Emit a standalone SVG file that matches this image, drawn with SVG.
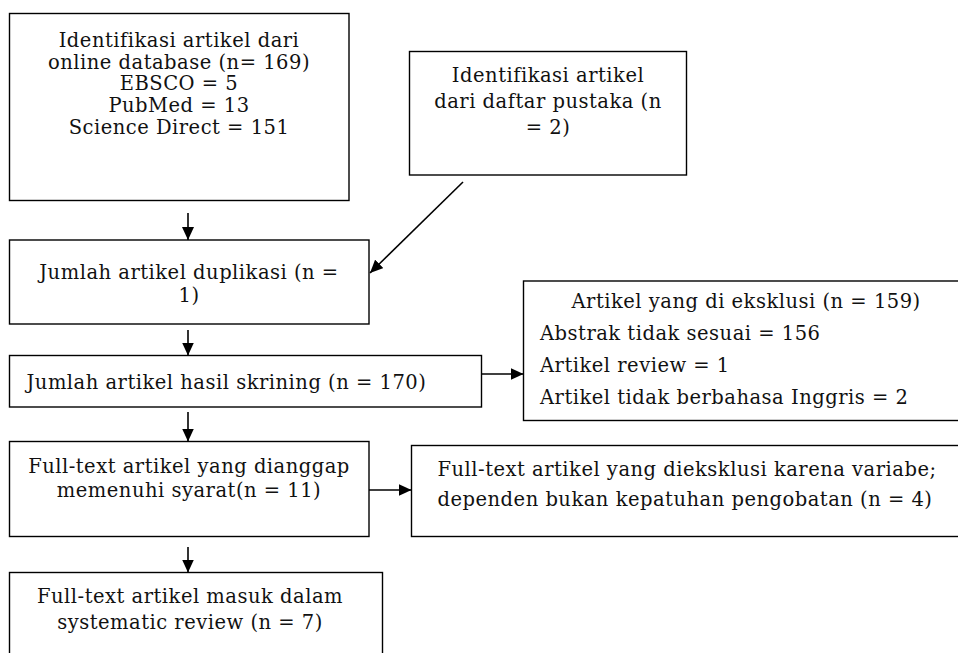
<svg xmlns="http://www.w3.org/2000/svg" width="958" height="653" viewBox="0 0 958 653">
<style>
  .box { fill: #ffffff; stroke: #000000; stroke-width: 1.4; }
  .t { font-family: "DejaVu Serif", "Liberation Serif", serif; font-size: 19.5px; letter-spacing: 0.5px; fill: #111111; }
  .c { text-anchor: middle; }
  .conn line { stroke: #000000; stroke-width: 1.6; fill: none; }
</style>
<defs>
  <marker id="ah" markerUnits="userSpaceOnUse" markerWidth="14" markerHeight="12" refX="13" refY="6" orient="auto">
    <path d="M0,0 L13,6 L0,12 Z" fill="#000000"/>
  </marker>
</defs>
<rect width="958" height="653" fill="#ffffff"/>

<g id="node-identifikasi-database">
  <rect class="box" x="9.5" y="13.5" width="339.5" height="187"/>
  <text class="t c" x="179" y="46.7">Identifikasi artikel dari</text>
  <text class="t c" x="179" y="68.5">online database (n= 169)</text>
  <text class="t c" x="179" y="90.3">EBSCO = 5</text>
  <text class="t c" x="179" y="112">PubMed = 13</text>
  <text class="t c" x="179" y="133.8">Science Direct = 151</text>
</g>

<g id="node-identifikasi-pustaka">
  <rect class="box" x="409.5" y="51.5" width="277" height="123.5"/>
  <text class="t c" x="548" y="82">Identifikasi artikel</text>
  <text class="t c" x="548" y="107.5">dari daftar pustaka (n</text>
  <text class="t c" x="548" y="133.5">= 2)</text>
</g>

<g id="node-duplikasi">
  <rect class="box" x="9.5" y="240" width="359.5" height="84"/>
  <text class="t c" x="189" y="279">Jumlah artikel duplikasi (n =</text>
  <text class="t c" x="189" y="302">1)</text>
</g>

<g id="node-skrining">
  <rect class="box" x="9.5" y="355.5" width="472" height="51.5"/>
  <text class="t" x="26.5" y="389">Jumlah artikel hasil skrining (n = 170)</text>
</g>

<g id="node-eksklusi">
  <rect class="box" x="523.5" y="281" width="450" height="139.5"/>
  <text class="t" x="571.5" y="308">Artikel yang di eksklusi (n = 159)</text>
  <text class="t" x="540" y="340">Abstrak tidak sesuai = 156</text>
  <text class="t" x="540" y="372">Artikel review = 1</text>
  <text class="t" x="540" y="404">Artikel tidak berbahasa Inggris = 2</text>
</g>

<g id="node-fulltext-syarat">
  <rect class="box" x="9.5" y="441.5" width="359.5" height="95"/>
  <text class="t c" x="189" y="473">Full-text artikel yang dianggap</text>
  <text class="t c" x="189" y="497">memenuhi syarat(n = 11)</text>
</g>

<g id="node-fulltext-eksklusi">
  <rect class="box" x="411.5" y="445.5" width="560" height="91"/>
  <text class="t" x="437.5" y="476">Full-text artikel yang dieksklusi karena variabe;</text>
  <text class="t" x="437.5" y="506">dependen bukan kepatuhan pengobatan (n = 4)</text>
</g>

<g id="node-fulltext-masuk">
  <rect class="box" x="9.5" y="572.5" width="373" height="100"/>
  <text class="t c" x="190" y="603">Full-text artikel masuk dalam</text>
  <text class="t c" x="190" y="628.5">systematic review (n = 7)</text>
</g>

<g id="connectors" class="conn">
  <line x1="188" y1="213" x2="188" y2="240" marker-end="url(#ah)"/>
  <line x1="463" y1="182" x2="370" y2="273" marker-end="url(#ah)"/>
  <line x1="188" y1="330" x2="188" y2="355.5" marker-end="url(#ah)"/>
  <line x1="482" y1="374" x2="523.5" y2="374" marker-end="url(#ah)"/>
  <line x1="188" y1="412" x2="188" y2="441.5" marker-end="url(#ah)"/>
  <line x1="369" y1="490" x2="411.5" y2="490" marker-end="url(#ah)"/>
  <line x1="188" y1="547" x2="188" y2="572.5" marker-end="url(#ah)"/>
</g>
</svg>
